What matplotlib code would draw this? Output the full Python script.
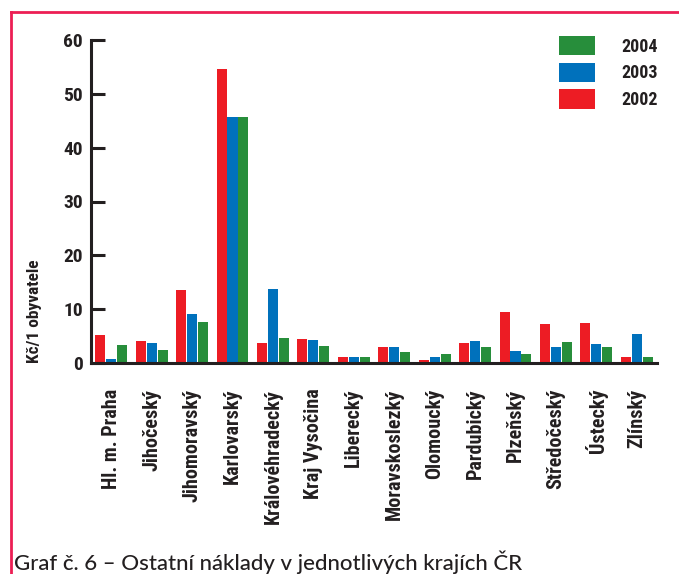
import matplotlib
matplotlib.use("Agg")
import matplotlib.pyplot as plt
from matplotlib.lines import Line2D
import numpy as np

regions = ["Hl. m. Praha", "Jihočeský", "Jihomoravský", "Karlovarský",
           "Královéhradecký", "Kraj Vysočina", "Liberecký", "Moravskoslezký",
           "Olomoucký", "Pardubický", "Plzeňský", "Středočeský", "Ústecký",
           "Zlínský"]
v2002 = [5.2, 4.0, 13.5, 54.7, 3.7, 4.4, 1.2, 2.9, 0.5, 3.7, 9.4, 7.2, 7.4, 1.2]
v2003 = [0.7, 3.7, 9.1, 45.7, 13.7, 4.2, 1.05, 2.9, 1.2, 4.0, 2.2, 2.9, 3.5, 5.3]
v2004 = [3.3, 2.4, 7.6, 45.7, 4.6, 3.1, 1.2, 2.0, 1.6, 2.9, 1.6, 3.9, 2.9, 1.05]
years = ["2002", "2003", "2004"]
yticks = [0, 10, 20, 30, 40, 50, 60]
caption = "Graf č. 6 – Ostatní náklady v jednotlivých krajích ČR"
ylabel = "Kč/1 obyvatele"

RED, BLUE, GREEN = "#ED1C24", "#0071BC", "#278E3B"
BORDER = "#EC1E54"
INK = "#231F20"

NARROW = ["Roboto Condensed", "DejaVu Sans"]
CAPTION_FONT = ["Lato", "DejaVu Sans"]

W, H = 679, 574
fig = plt.figure(figsize=(W / 100, H / 100), dpi=100)

# plot area in pixels: left 91, right 657, top 40, bottom 363
ax = fig.add_axes([91 / W, 1 - 363 / H, (657 - 91) / W, (363 - 40) / H])

x = np.arange(len(regions))
bw = 0.25
off = 0.27
b02 = ax.bar(x - off, v2002, bw, color=RED, linewidth=0)
b03 = ax.bar(x, v2003, bw, color=BLUE, linewidth=0)
b04 = ax.bar(x + off, v2004, bw, color=GREEN, linewidth=0)

ax.set_xlim(-0.5, len(regions) - 0.5)
ax.set_ylim(0, 60)

for s in ["top", "right"]:
    ax.spines[s].set_visible(False)
for s in ["left", "bottom"]:
    ax.spines[s].set_linewidth(2.2)
    ax.spines[s].set_color(INK)
ax.spines["bottom"].set_zorder(5)

ax.set_yticks(yticks)
ax.set_yticklabels([str(t) for t in yticks], fontfamily=NARROW,
                   fontweight="bold", fontsize=14, color=INK)
ax.tick_params(axis="y", direction="in", length=10, width=2.2,
               color=INK, pad=6)

ax.set_xticks(x)
ax.set_xticklabels(regions, rotation=90, fontfamily=NARROW,
                   fontweight="bold", fontsize=14.5, color=INK)
ax.tick_params(axis="x", length=0, pad=18.5)

# y-axis caption sits low, beside the lower part of the axis
fig.text(35 / W, 1 - 363 / H, ylabel, rotation=90, ha="center", va="bottom",
         fontfamily=NARROW, fontweight="bold", fontsize=12.5, color=INK)

# legend with 2004 on top
fs = 13
px = fs * 100 / 72
leg = ax.legend([b04, b03, b02], years[::-1], loc="upper left",
                bbox_to_anchor=(559 / W, 1 - 36 / H),
                bbox_transform=fig.transFigure, frameon=False,
                borderpad=0, borderaxespad=0, handlelength=36 / px,
                handleheight=23 / px, handletextpad=26 / px,
                labelspacing=7 / px,
                prop={"family": NARROW, "weight": "bold", "size": fs})
for t in leg.get_texts():
    t.set_color(INK)

# page frame: top and left border lines
fig.add_artist(Line2D([11 / W, 1], [1 - 12 / H, 1 - 12 / H],
                      transform=fig.transFigure, color=BORDER, lw=2))
fig.add_artist(Line2D([11 / W, 11 / W], [1 - 12 / H, 0],
                      transform=fig.transFigure, color=BORDER, lw=2))

fig.text(14 / W, 1 - 570 / H, caption, ha="left", va="baseline",
         fontfamily=CAPTION_FONT, fontweight="medium", fontsize=16,
         color=INK)

fig.savefig("out.png", dpi=100)
